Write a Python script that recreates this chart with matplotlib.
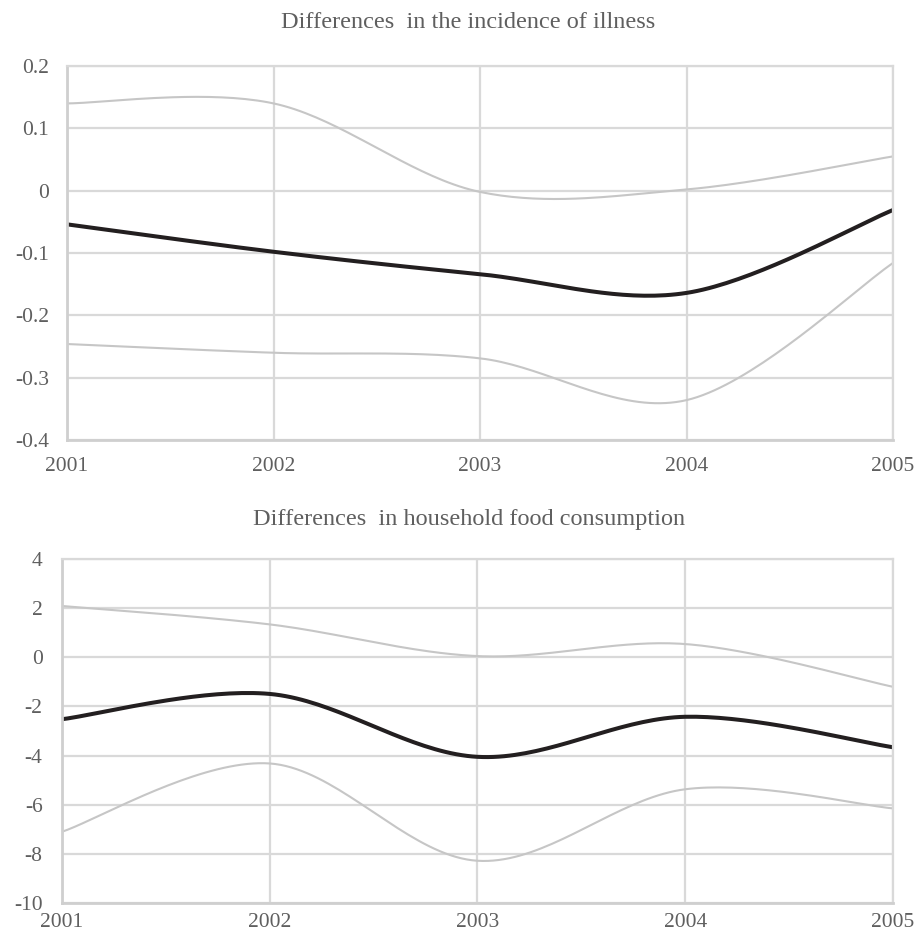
import numpy as np
import matplotlib
matplotlib.use("Agg")
import matplotlib.pyplot as plt

plt.rcParams['font.family'] = ['Liberation Serif', 'DejaVu Serif']

years = [2001, 2002, 2003, 2004, 2005]

# Differences in the incidence of illness
ill_upper = [0.140, 0.140, -0.002, 0.002, 0.055]
ill_mean = [-0.054, -0.098, -0.134, -0.164, -0.031]
ill_lower = [-0.246, -0.260, -0.269, -0.336, -0.116]

# Differences in household food consumption
food_upper = [2.09, 1.34, 0.05, 0.54, -1.20]
food_mean = [-2.52, -1.49, -4.05, -2.42, -3.66]
food_lower = [-7.10, -4.32, -8.28, -5.37, -6.15]

title_top = "Differences  in the incidence of illness"
title_bot = "Differences  in household food consumption"

grey_txt = "#5f5f5f"
grid_col = "#d9d9d9"
band_col = "#c6c6c6"
mean_col = "#231f20"


def smooth(x, y, n=40):
    # excel-like smoothed line: cubic bezier through the points
    x = np.asarray(x, float)
    y = np.asarray(y, float)
    px = np.concatenate([[x[0]], x, [x[-1]]])
    py = np.concatenate([[y[0]], y, [y[-1]]])
    xs, ys = [], []
    t = np.linspace(0, 1, n)
    for i in range(1, len(x)):
        p0 = np.array([px[i], py[i]])
        p3 = np.array([px[i + 1], py[i + 1]])
        c1 = p0 + (np.array([px[i + 1], py[i + 1]]) - np.array([px[i - 1], py[i - 1]])) / 6
        c2 = p3 - (np.array([px[i + 2], py[i + 2]]) - np.array([px[i], py[i]])) / 6
        b = ((1 - t) ** 3)[:, None] * p0 + (3 * (1 - t) ** 2 * t)[:, None] * c1 \
            + (3 * (1 - t) * t ** 2)[:, None] * c2 + (t ** 3)[:, None] * p3
        xs.extend(b[:, 0])
        ys.extend(b[:, 1])
    return np.array(xs), np.array(ys)


def style(ax, yticks, ylabels, xpad, ypad):
    ax.set_xlim(years[0], years[-1])
    ax.set_ylim(yticks[0], yticks[-1])
    ax.set_xticks(years)
    ax.set_xticklabels([str(v) for v in years])
    ax.set_yticks(yticks)
    ax.set_yticklabels(ylabels)
    ax.grid(True, color=grid_col, lw=1.6)
    ax.set_axisbelow(True)
    for s in ax.spines.values():
        s.set_color(grid_col)
        s.set_linewidth(1.6)
    ax.spines['left'].set_color("#cfcfcf")
    ax.spines['bottom'].set_color("#cfcfcf")
    ax.spines['left'].set_linewidth(2)
    ax.spines['bottom'].set_linewidth(2)
    ax.tick_params(axis='x', length=0, pad=xpad, labelsize=15.5, labelcolor=grey_txt)
    ax.tick_params(axis='y', length=0, pad=ypad, labelsize=15.5, labelcolor=grey_txt)


fig = plt.figure(figsize=(9.18, 9.35), dpi=100)

ax1 = fig.add_axes([0.073, 0.5294, 0.8998, 0.4])
for ser, c, lw in [(ill_upper, band_col, 1.5), (ill_lower, band_col, 1.5), (ill_mean, mean_col, 2.9)]:
    sx, sy = smooth(years, ser)
    ax1.plot(sx, sy, color=c, lw=lw, solid_capstyle='butt', clip_on=False)
style(ax1, [-0.4, -0.3, -0.2, -0.1, 0, 0.1, 0.2],
      ["-0.4", "-0.3", "-0.2", "-0.1", "0", "0.1", "0.2"], 12, 13)

ax2 = fig.add_axes([0.0675, 0.0342, 0.9053, 0.3679])
for ser, c, lw in [(food_upper, band_col, 1.5), (food_lower, band_col, 1.5), (food_mean, mean_col, 2.9)]:
    sx, sy = smooth(years, ser)
    ax2.plot(sx, sy, color=c, lw=lw, solid_capstyle='butt', clip_on=False)
style(ax2, [-10, -8, -6, -4, -2, 0, 2, 4],
      ["-10", "-8", "-6", "-4", "-2", "0", "2", "4"], 7, 14)

fig.text(468 / 918, 1 - 22 / 935, title_top, ha='center', va='center', fontsize=17.5, color=grey_txt)
fig.text(469 / 918, 1 - 519 / 935, title_bot, ha='center', va='center', fontsize=17.5, color=grey_txt)

fig.savefig("out.png", dpi=100)
